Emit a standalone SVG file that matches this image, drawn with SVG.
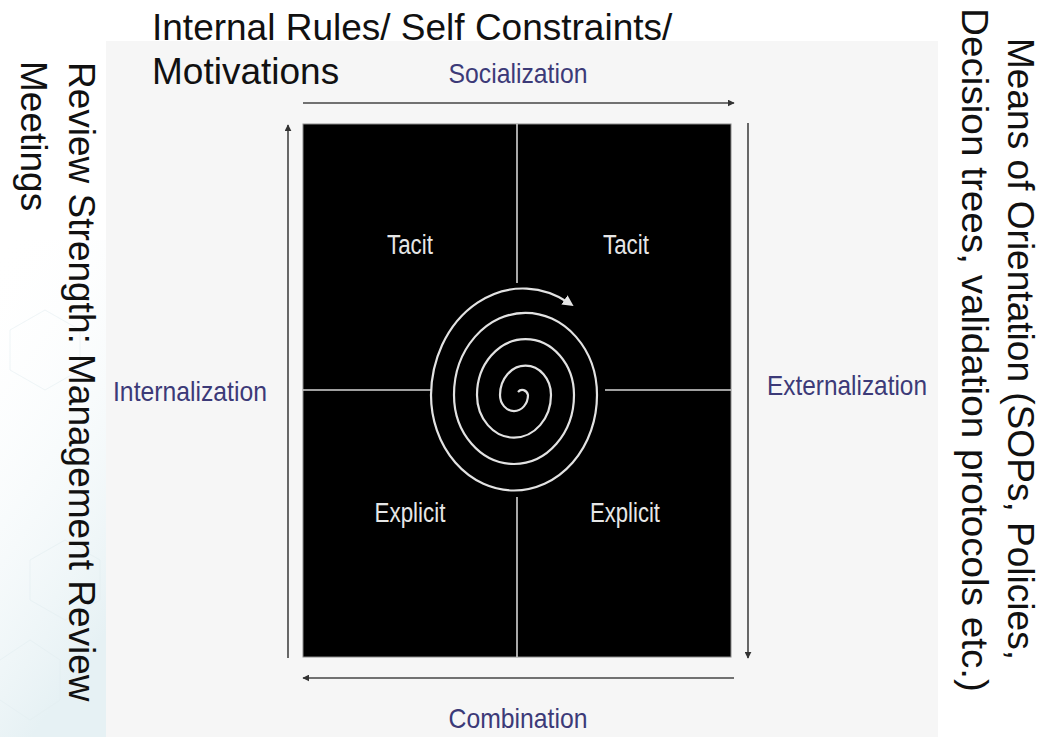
<svg xmlns="http://www.w3.org/2000/svg" width="1043" height="737" viewBox="0 0 1043 737">
  <defs>
    <linearGradient id="bgfade" x1="0" y1="0" x2="0.3" y2="1">
      <stop offset="0" stop-color="#ffffff" stop-opacity="0"/>
      <stop offset="1" stop-color="#e6f1f4" stop-opacity="1"/>
    </linearGradient>
    <marker id="arr" viewBox="0 0 10 10" refX="9" refY="5" markerWidth="7" markerHeight="7" markerUnits="userSpaceOnUse" orient="auto">
      <path d="M0,0 L10,5 L0,10 z" fill="#333"/>
    </marker>
    <marker id="sarr" viewBox="0 0 10 10" refX="5" refY="5" markerWidth="11" markerHeight="11" markerUnits="userSpaceOnUse" orient="auto">
      <path d="M0,0 L10,5 L0,10 z" fill="#e6e6e6"/>
    </marker>
  </defs>
  <style>
    .big { font-family: "Liberation Sans", Arial, sans-serif; font-size: 37px; fill: #111; }
    .lab { font-family: "Liberation Sans", Arial, sans-serif; font-size: 28px; fill: #3c3a78; }
    .quad { font-family: "Liberation Sans", Arial, sans-serif; font-size: 27px; fill: #e6e6e6; }
    .axis { stroke: #444; stroke-width: 1.6; fill: none; marker-end: url(#arr); }
    .div { stroke: #d4d4d4; stroke-width: 1.6; fill: none; }
  </style>

  <rect x="0" y="0" width="1043" height="737" fill="#ffffff"/>
  <rect x="0" y="240" width="106" height="497" fill="url(#bgfade)"/>
  <g id="hexes" stroke="#e4eff2" stroke-width="1" fill="none" opacity="0.6">
    <path d="M10,330 L45,310 L80,330 L80,370 L45,390 L10,370 z"/>
    <path d="M30,560 L65,540 L100,560 L100,600 L65,620 L30,600 z"/>
    <path d="M0,660 L30,640 L60,660 L60,700 L30,720 L0,700"/>
  </g>
  <rect id="panel" x="106" y="41" width="832" height="696" fill="#f6f6f6"/>

  <g id="matrix">
    <rect x="303" y="124" width="428" height="533" fill="#000" stroke="#8a8a8a" stroke-width="1"/>
  </g>

  <g id="dividers">
    <line class="div" x1="517" y1="124" x2="517" y2="283"/>
    <line class="div" x1="517" y1="497" x2="517" y2="657"/>
    <line class="div" x1="303" y1="390" x2="431" y2="390"/>
    <line class="div" x1="605" y1="390" x2="731" y2="390"/>
  </g>

  <g id="spiral">
    <path d="M518,392 A6 7 0 0 1 528,395 A14 16.1 0 0 1 500,395 A25.5 29.3 0 0 1 551,395 A37 42.6 0 0 1 477,395 A48.5 55.8 0 0 1 574,395 A60 69 0 0 1 454,395 A71.5 82.2 0 0 1 597,395 A83 95.5 0 0 1 431,395 A92 108 0 0 1 569,303" fill="none" stroke="#e2e2e2" stroke-width="2.2" marker-end="url(#sarr)"/>
  </g>

  <g id="connectors">
    <line class="axis" x1="303" y1="103" x2="734" y2="103"/>
    <line class="axis" x1="748" y1="123" x2="748" y2="658"/>
    <line class="axis" x1="734" y1="678" x2="303" y2="678"/>
    <line class="axis" x1="288" y1="658" x2="288" y2="125"/>
  </g>

  <g id="node-socialization"><text class="lab" x="518" y="83" text-anchor="middle" textLength="139" lengthAdjust="spacingAndGlyphs">Socialization</text></g>
  <g id="node-externalization"><text class="lab" x="847" y="395" text-anchor="middle" textLength="160" lengthAdjust="spacingAndGlyphs">Externalization</text></g>
  <g id="node-combination"><text class="lab" x="518" y="728" text-anchor="middle" textLength="139" lengthAdjust="spacingAndGlyphs">Combination</text></g>
  <g id="node-internalization"><text class="lab" x="190" y="401" text-anchor="middle" textLength="154" lengthAdjust="spacingAndGlyphs">Internalization</text></g>

  <g id="node-tacit-left"><text class="quad" x="410" y="254" text-anchor="middle" textLength="46" lengthAdjust="spacingAndGlyphs">Tacit</text></g>
  <g id="node-tacit-right"><text class="quad" x="626" y="254" text-anchor="middle" textLength="46" lengthAdjust="spacingAndGlyphs">Tacit</text></g>
  <g id="node-explicit-left"><text class="quad" x="410" y="522" text-anchor="middle" textLength="71" lengthAdjust="spacingAndGlyphs">Explicit</text></g>
  <g id="node-explicit-right"><text class="quad" x="625" y="522" text-anchor="middle" textLength="70" lengthAdjust="spacingAndGlyphs">Explicit</text></g>

  <g id="note-internal-rules">
    <text class="big" x="152" y="40">Internal Rules/ Self Constraints/</text>
    <text class="big" x="152" y="84">Motivations</text>
  </g>
  <g id="note-review">
    <text class="big" transform="translate(69,62) rotate(90)">Review Strength: Management Review</text>
    <text class="big" transform="translate(21,61) rotate(90)">Meetings</text>
  </g>
  <g id="note-means">
    <text class="big" transform="translate(1008,38) rotate(90)" textLength="622" lengthAdjust="spacingAndGlyphs">Means of Orientation (SOPs, Policies,</text>
    <text class="big" transform="translate(962,8) rotate(90)" textLength="684" lengthAdjust="spacingAndGlyphs">Decision trees, validation protocols etc.)</text>
  </g>
</svg>
